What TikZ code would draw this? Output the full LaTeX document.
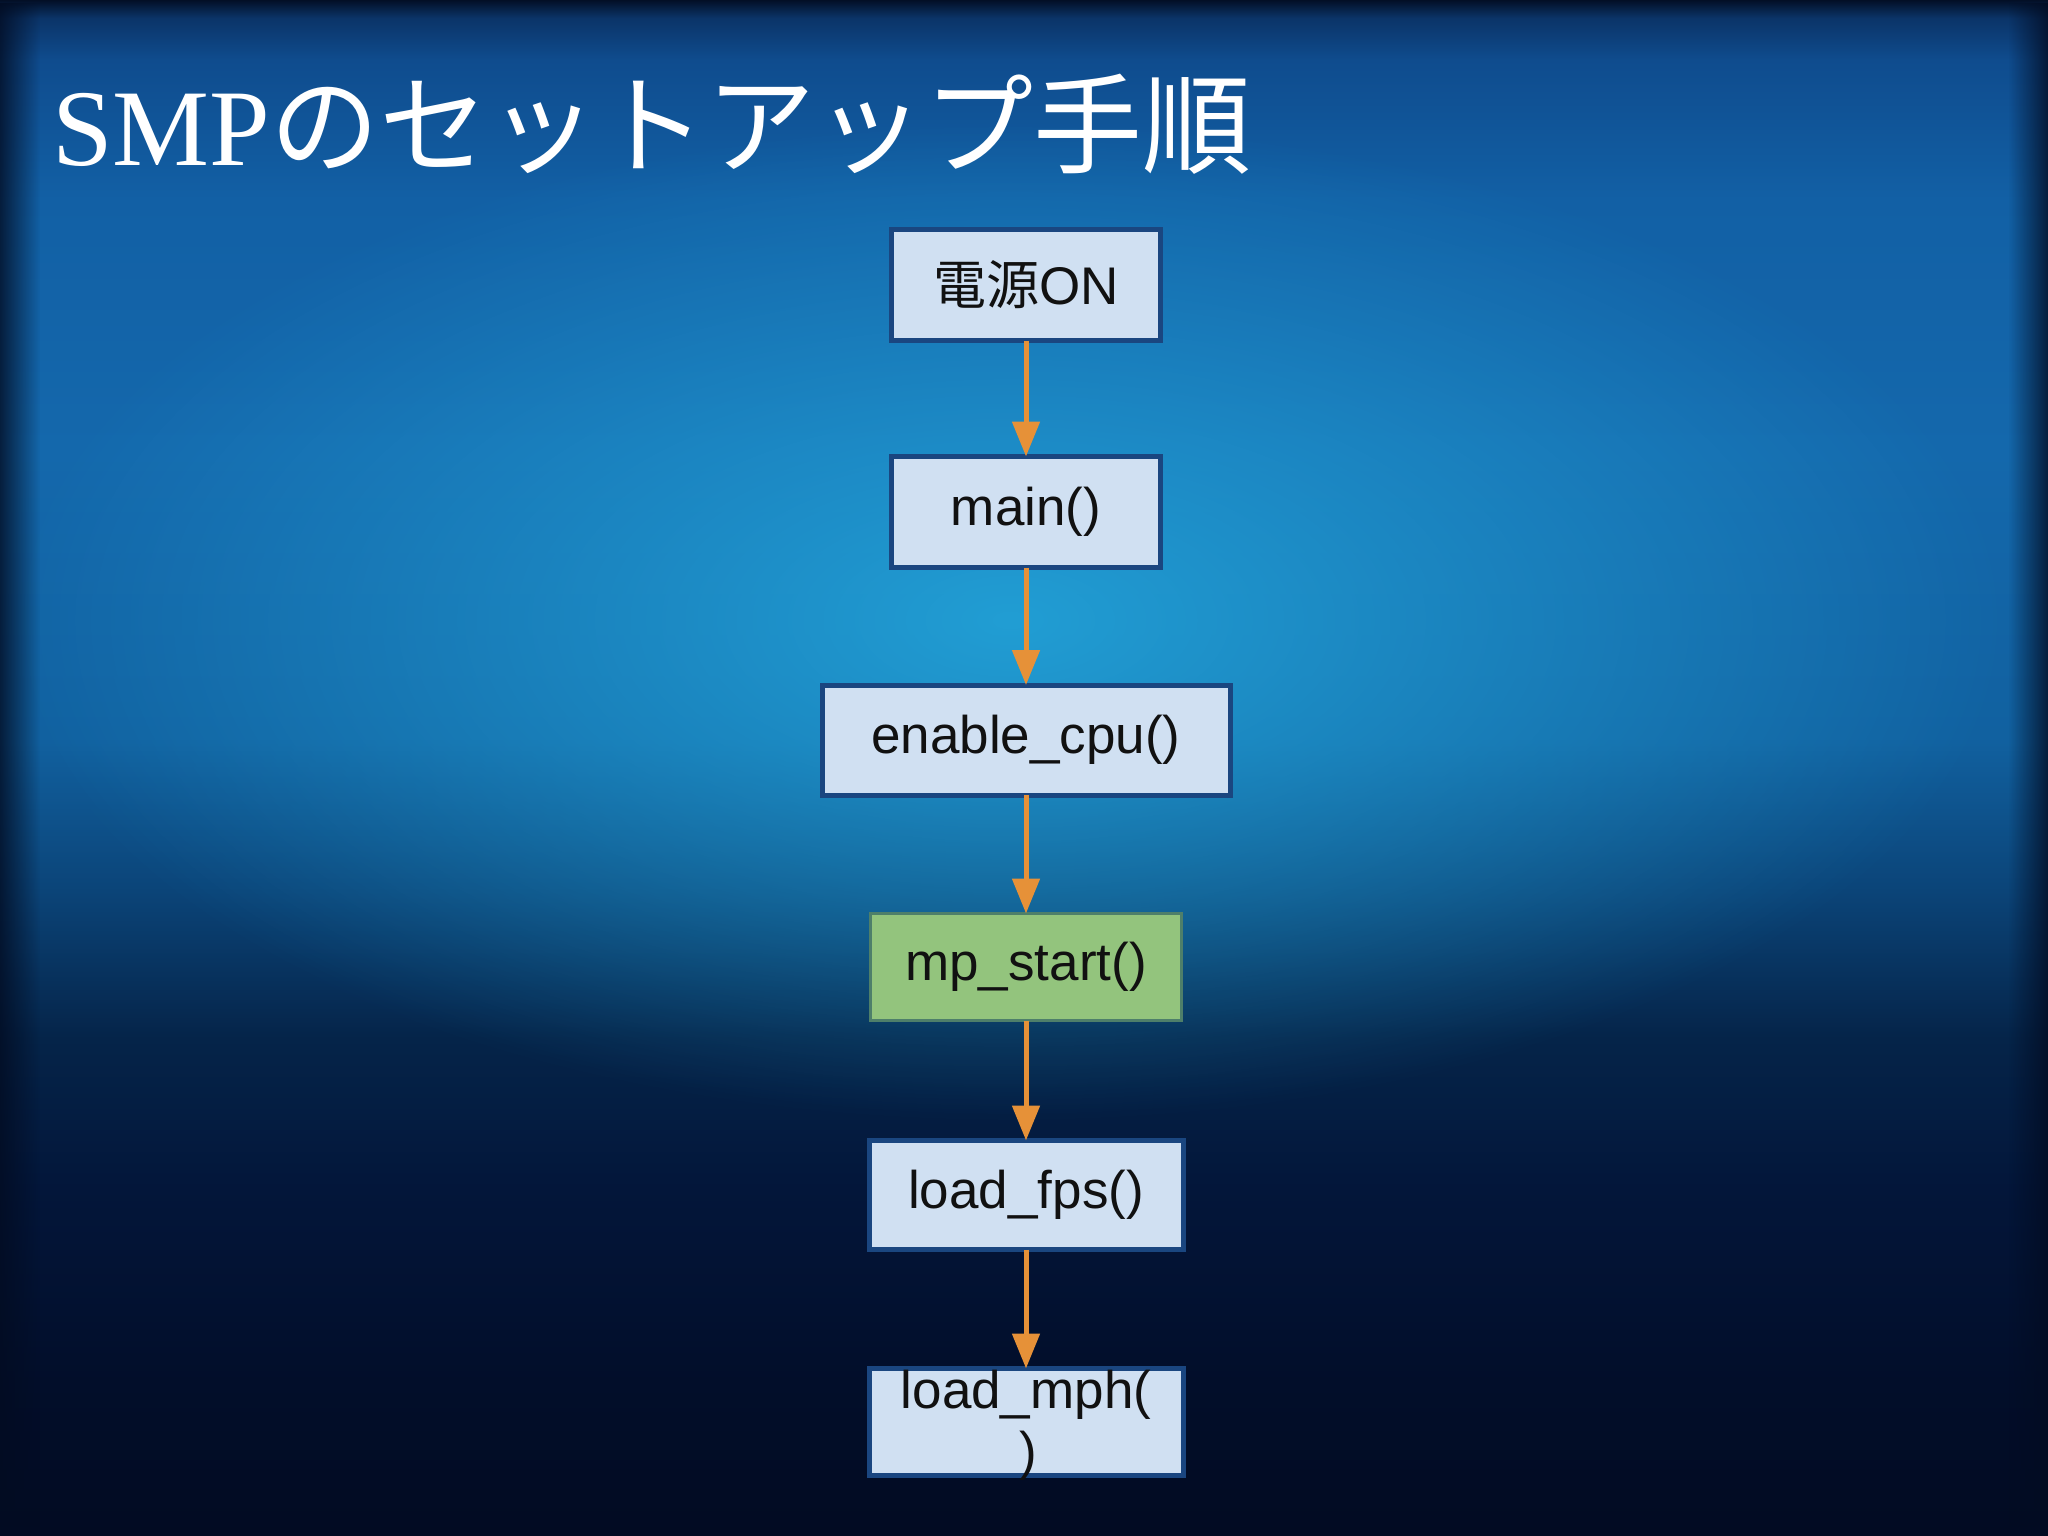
\documentclass[tikz,border=0pt]{standalone}
\usepackage{fontspec}
\setmainfont{Liberation Serif}
\newfontfamily\boxfont{Liberation Sans}
\newfontfamily\jpfont{Noto Sans CJK JP}
\usetikzlibrary{arrows.meta,fadings}

\definecolor{bgA}{HTML}{030F26}
\definecolor{bgB}{HTML}{0B3468}
\definecolor{bgC}{HTML}{0F4C8E}
\definecolor{bgD}{HTML}{1260A5}
\definecolor{bgE}{HTML}{1468AC}
\definecolor{bgF}{HTML}{1161A0}
\definecolor{bgG}{HTML}{0B4478}
\definecolor{bgH}{HTML}{052449}
\definecolor{bgI}{HTML}{03163A}
\definecolor{bgJ}{HTML}{020E2A}
\definecolor{bgK}{HTML}{020B22}
\definecolor{glow}{HTML}{24A8DC}
\definecolor{vig}{HTML}{020C22}
\definecolor{boxfill}{HTML}{D0E0F2}
\definecolor{boxline}{HTML}{1A4680}
\definecolor{greenfill}{HTML}{93C47D}
\definecolor{greenline}{HTML}{4E7F6A}
\definecolor{arrorange}{HTML}{E69138}
\definecolor{boxtext}{HTML}{111111}

% positions: 25 + 50*(1536-y)/1536
\pgfdeclareverticalshading{bgv}{100bp}{%
  color(0bp)=(bgK); color(25bp)=(bgK); color(30bp)=(bgJ); color(36.3bp)=(bgI);
  color(41.2bp)=(bgH); color(46.0bp)=(bgG); color(51bp)=(bgF); color(60.35bp)=(bgE);
  color(68.49bp)=(bgD); color(73.05bp)=(bgC); color(74.41bp)=(bgB); color(75bp)=(bgA);
  color(100bp)=(bgA)}
\tikzfading[name=fadeLR, left color=transparent!0, right color=transparent!100]
\tikzfading[name=fadeRL, left color=transparent!100, right color=transparent!0]
\tikzfading[name=glowfade, inner color=transparent!0, outer color=transparent!100]

\tikzset{
  box/.style={draw=boxline, line width=5pt, fill=boxfill, inner sep=0pt, outer sep=0pt,
    text=boxtext, font=\boxfont\fontsize{53}{62}\selectfont},
  greenbox/.style={box, fill=greenfill, draw=greenline, line width=3pt},
  boxtxt/.style={inner sep=0pt, outer sep=0pt, text=boxtext, font=\boxfont\fontsize{53}{62}\selectfont},
  arr/.style={draw=arrorange, line width=5pt, -{Triangle[length=35pt,width=27pt]}},
}

\begin{document}
\begin{tikzpicture}[x=1pt,y=-1pt]
\useasboundingbox (0,0) rectangle (2048,1536);
% background
\shade[shading=bgv] (0,0) rectangle (2048,1536);
\fill[glow, path fading=glowfade, opacity=0.85] (1010,620) ellipse [x radius=1000, y radius=500];
\fill[vig, path fading=fadeLR, opacity=0.8] (0,0) rectangle (40,1536);
\fill[vig, path fading=fadeRL, opacity=0.8] (2008,0) rectangle (2048,1536);

% title
\node[anchor=base west, inner sep=0pt, text=white, font=\fontsize{109}{120}\selectfont] (title)
  at (52,165) {SMP{\jpfont のセットアップ手順}};

% boxes
\node[box, minimum width=269pt, minimum height=111pt] (b1) at (1026,285) {{\jpfont 電源}ON};
\node[box, minimum width=269pt, minimum height=111pt] (b2) at (1026,512) {main()};
\node[box, minimum width=408pt, minimum height=110pt] (b3) at (1026,740) {enable\_cpu()};
\node[greenbox, minimum width=311pt, minimum height=107pt] (b4) at (1026,967) {mp\_start()};
\node[box, minimum width=314pt, minimum height=109pt] (b5) at (1026,1195) {load\_fps()};
\node[box, minimum width=314pt, minimum height=107pt] (b6) at (1026,1422) {};
\node[boxtxt, anchor=base] (t6a) at (1026,1408) {load\_mph(};
\node[boxtxt, anchor=base] (t6b) at (1028,1469) {)};

% arrows
\draw[arr] (b1) -- (b2);
\draw[arr] (b2) -- (b3);
\draw[arr] (b3) -- (b4);
\draw[arr] (b4) -- (b5);
\draw[arr] (b5) -- (b6);
\end{tikzpicture}
\end{document}
